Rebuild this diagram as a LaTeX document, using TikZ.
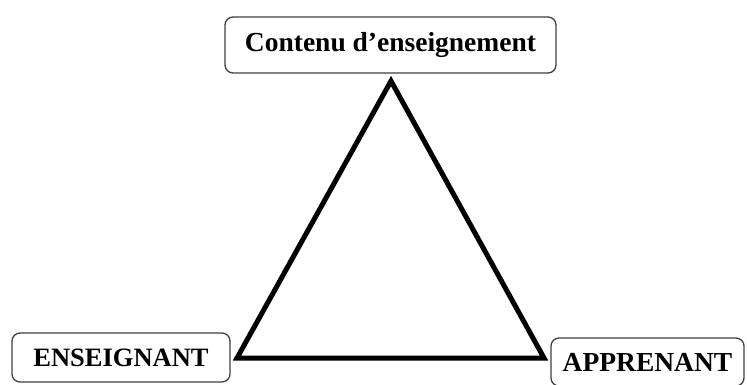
\documentclass[tikz,border=0pt]{standalone}
\usepackage{fontspec}
\setmainfont{Liberation Serif}
\begin{document}
\begin{tikzpicture}[x=1pt,y=-1pt,
  labelbox/.style={draw=black!75, line width=1.3pt, rounded corners=8pt, fill=white,
    inner sep=0pt, font=\fontsize{27.5}{30}\selectfont\bfseries, text=black},
  tri/.style={line width=5pt, line join=miter, draw=black}]
\useasboundingbox (0,0) rectangle (747,385);
\node[labelbox, minimum width=331pt, minimum height=56pt] (contenu) at (390.5,45) {Contenu d’enseignement};
\node[labelbox, minimum width=218pt, minimum height=49pt] (ens) at (121,357.5) {\fontsize{26.5}{30}\selectfont ENSEIGNANT};
\node[labelbox, minimum width=193pt, minimum height=48pt] (app) at (647.5,362) {APPRENANT};
\coordinate (apex) at (391,81);
\coordinate (bl) at (237,358);
\coordinate (br) at (544,358);
\draw[tri] (apex) -- (bl) -- (br) -- cycle;
\end{tikzpicture}
\end{document}
